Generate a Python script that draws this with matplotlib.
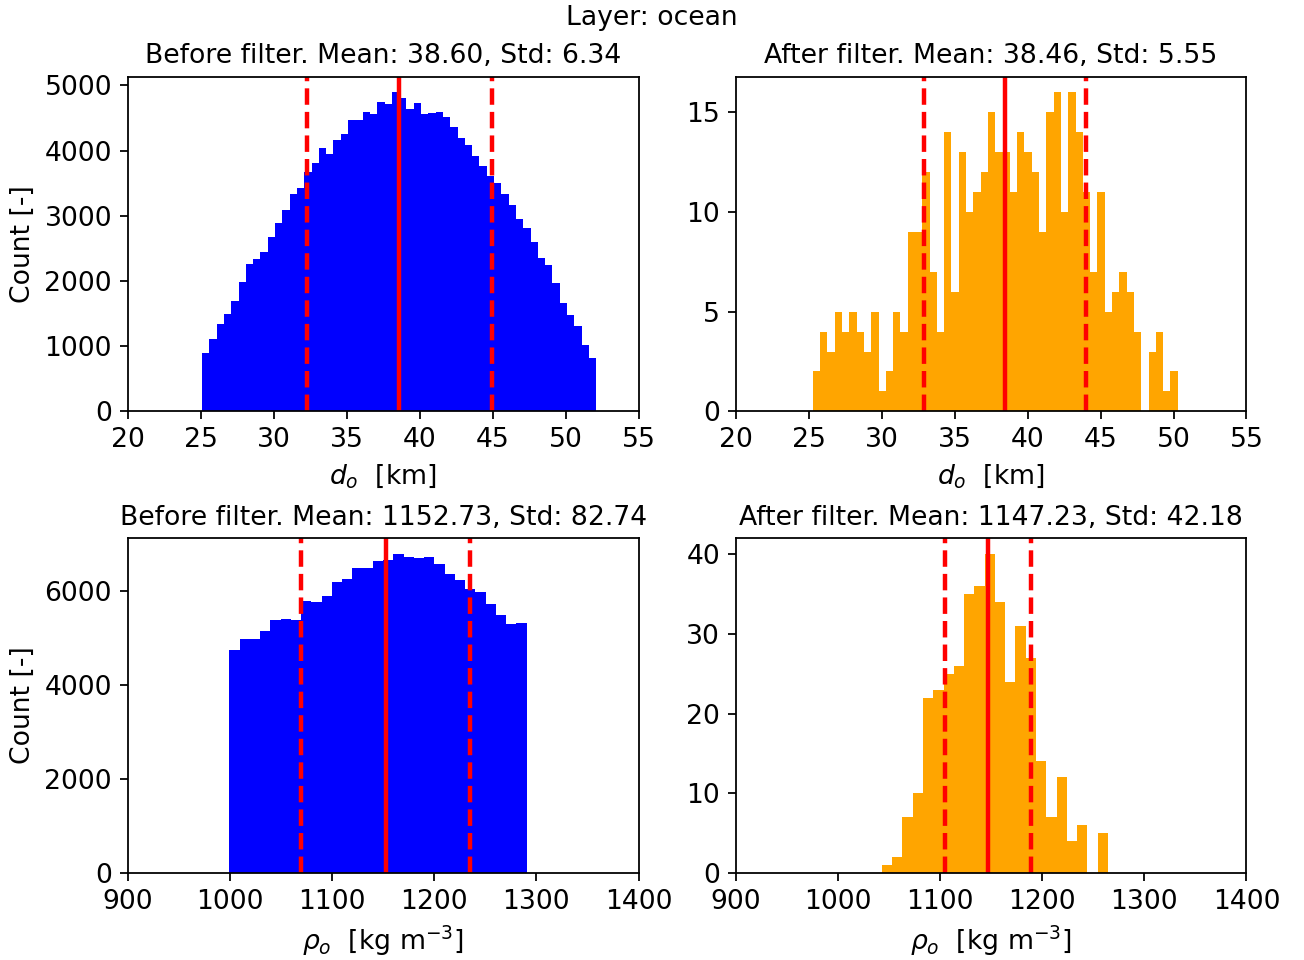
import numpy as np
import matplotlib
matplotlib.use("Agg")
import matplotlib.pyplot as plt

plt.rcParams['font.family'] = ['DejaVu Sans']
plt.rcParams['font.size'] = 12

layer_name = "ocean"

# Ocean thickness d_o [km], full sample: 54 bins of 0.5 km
d_edges_before = np.linspace(25.1, 52.1, 55)
d_counts_before = [
    892, 1108, 1338, 1492, 1692, 1985, 2262, 2338, 2446, 2677,
    2892, 3092, 3338, 3431, 3677, 3815, 4046, 3954, 4169, 4262,
    4462, 4477, 4585, 4554, 4738, 4708, 4892, 4810, 4631, 4734,
    4569, 4580, 4595, 4523, 4365, 4195, 4088, 3918, 3765, 3615,
    3503, 3338, 3165, 2949, 2811, 2595, 2349, 2242, 1969, 1657,
    1472, 1303, 1011, 815,
]
d_mean_before, d_std_before = 38.60, 6.34

# Ocean thickness d_o [km], filtered sample: 50 bins
d_edges_after = np.linspace(25.29, 50.29, 51)
d_counts_after = [
    2, 4, 3, 5, 4, 5, 4, 3, 5, 1,
    2, 5, 4, 9, 9, 12, 7, 4, 14, 6,
    13, 10, 11, 12, 15, 13, 13, 11, 14, 13,
    12, 9, 15, 16, 10, 16, 14, 11, 7, 11,
    5, 6, 7, 6, 4, 0, 3, 4, 1, 2,
]
d_mean_after, d_std_after = 38.46, 5.55

# Ocean density rho_o [kg m^-3], full sample: 29 bins
rho_edges_before = np.linspace(999.5, 1290.5, 30)
rho_counts_before = [
    4745, 4979, 4979, 5149, 5383, 5404, 5383, 5787, 5766, 5894,
    6191, 6255, 6489, 6489, 6638, 6660, 6787, 6723, 6702, 6723,
    6574, 6362, 6234, 6043, 5979, 5723, 5489, 5298, 5319,
]
rho_mean_before, rho_std_before = 1152.73, 82.74

# Ocean density rho_o [kg m^-3], filtered sample: 22 bins
rho_edges_after = np.linspace(1043.2, 1264.4, 23)
rho_counts_after = [
    1, 2, 7, 10, 22, 23, 25, 26, 35, 36,
    40, 34, 24, 31, 27, 14, 7, 12, 4, 6,
    0, 5,
]
rho_mean_after, rho_std_after = 1147.23, 42.18

d_xlim = (20, 55)
d_xticks = [20, 25, 30, 35, 40, 45, 50, 55]
rho_xlim = (900, 1400)
rho_xticks = [900, 1000, 1100, 1200, 1300, 1400]
d_label = r'$d_o$  [km]'
rho_label = r'$\rho_o$  [kg m$^{-3}$]'

panels = [
    (0, 0, d_edges_before, d_counts_before, d_mean_before, d_std_before,
     'blue', 'Before filter', d_xlim, d_xticks, d_label),
    (0, 1, d_edges_after, d_counts_after, d_mean_after, d_std_after,
     'orange', 'After filter', d_xlim, d_xticks, d_label),
    (1, 0, rho_edges_before, rho_counts_before, rho_mean_before, rho_std_before,
     'blue', 'Before filter', rho_xlim, rho_xticks, rho_label),
    (1, 1, rho_edges_after, rho_counts_after, rho_mean_after, rho_std_after,
     'orange', 'After filter', rho_xlim, rho_xticks, rho_label),
]

fig = plt.figure(figsize=(8.15, 6.0), dpi=160)
axes = fig.subplots(2, 2)
fig.subplots_adjust(left=0.0979, right=0.9559, bottom=0.0906, top=0.9203,
                    wspace=0.19, hspace=0.379)

for row, col, edges, counts, mean, std, color, stage, xlim, xticks, xlabel in panels:
    ax = axes[row, col]
    ax.hist(edges[:-1], bins=edges, weights=counts, color=color)
    ax.axvline(mean, color='red', lw=2)
    ax.axvline(mean - std, color='red', lw=2, ls='--')
    ax.axvline(mean + std, color='red', lw=2, ls='--')
    ax.set_xticks(xticks)
    ax.set_xlim(*xlim)
    ax.set_xlabel(xlabel)
    if col == 0:
        ax.set_ylabel('Count [-]')
    ax.set_title(f'{stage}. Mean: {mean:.2f}, Std: {std:.2f}', fontsize=12)

fig.suptitle(f'Layer: {layer_name}', fontsize=12, y=0.995, va='top')

fig.savefig('out.png', dpi=160)
